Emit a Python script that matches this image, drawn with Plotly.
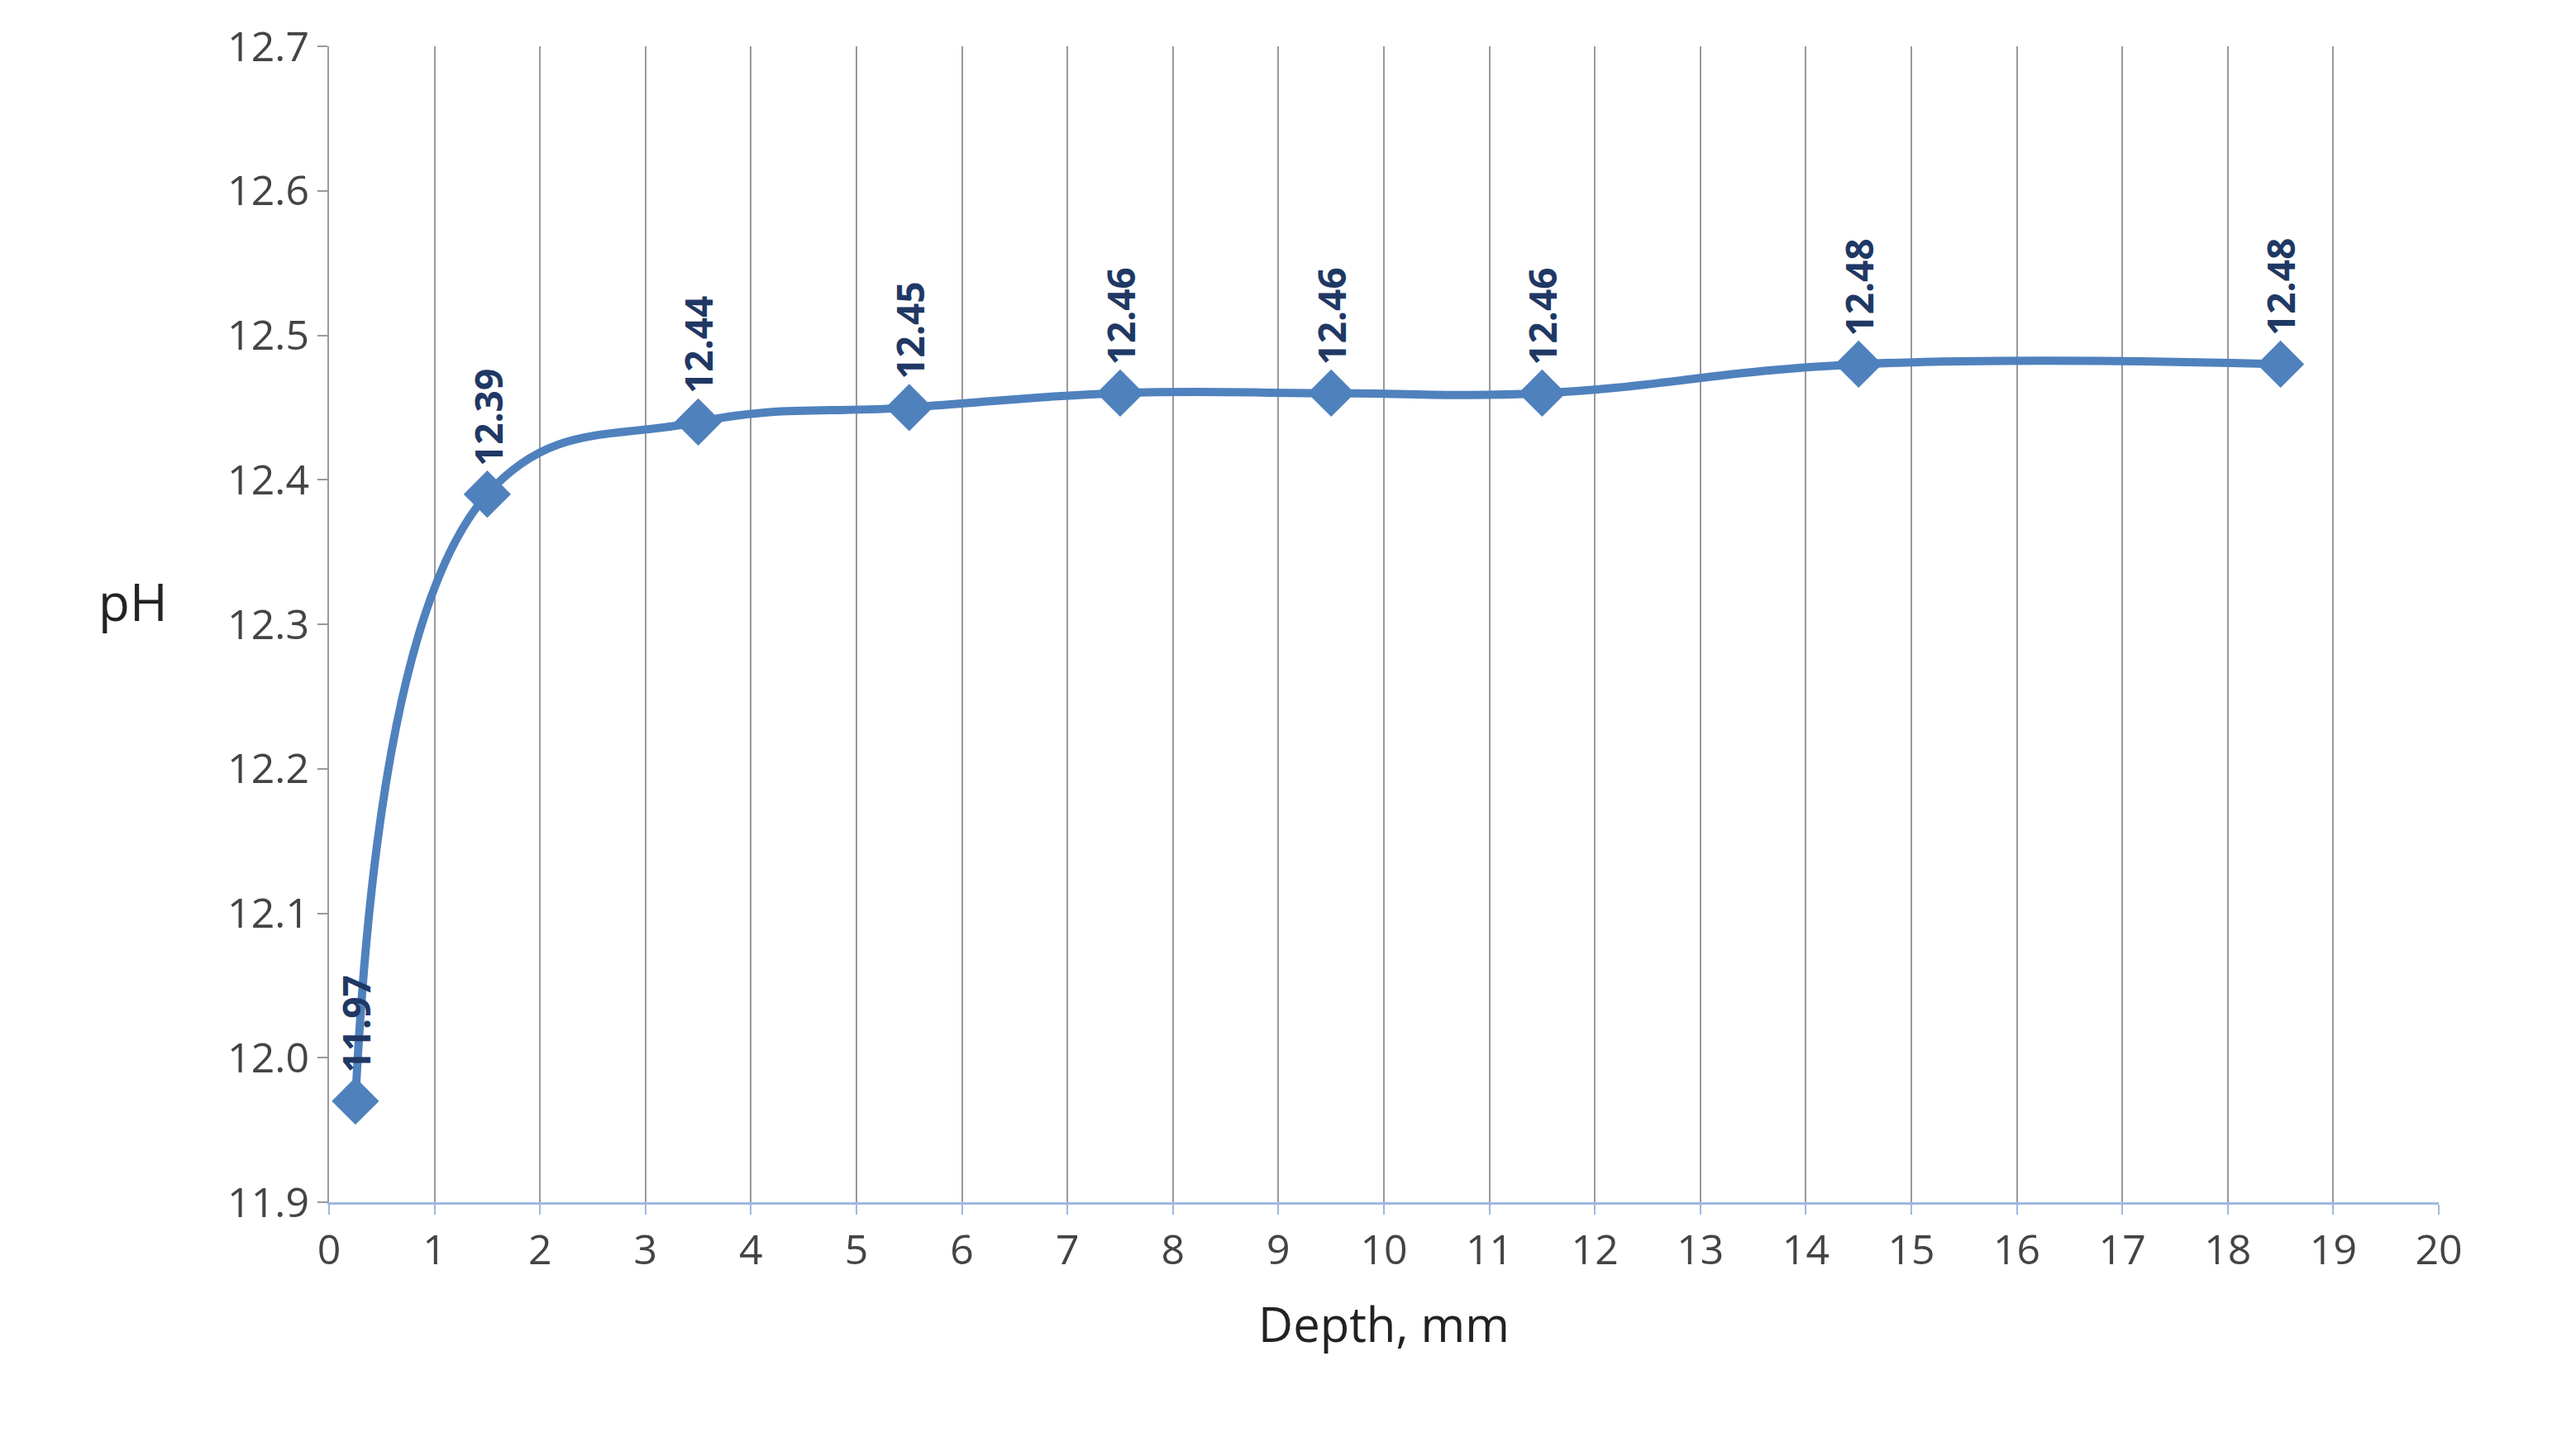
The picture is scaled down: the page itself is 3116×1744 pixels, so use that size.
import plotly.graph_objects as go

depth = [0.25, 1.5, 3.5, 5.5, 7.5, 9.5, 11.5, 14.5, 18.5]
ph = [11.97, 12.39, 12.44, 12.45, 12.46, 12.46, 12.46, 12.48, 12.48]
labels = ["11.97", "12.39", "12.44", "12.45", "12.46", "12.46", "12.46", "12.48", "12.48"]

fig = go.Figure(go.Scatter(
    x=depth, y=ph, mode="lines+markers",
    line=dict(color="#4F81BD", width=10, shape="spline", smoothing=1.2),
    marker=dict(symbol="diamond", size=44, color="#4F81BD"),
))
for xv, yv, t in zip(depth, ph, labels):
    fig.add_annotation(x=xv, y=yv, text=t, showarrow=False, textangle=-90,
                       yanchor="bottom", yshift=32,
                       font=dict(family="Open Sans", size=46, color="#1F3864", weight="bold"))
fig.add_annotation(xref="paper", yref="paper", x=-0.11, y=0.52, text="pH", showarrow=False,
                   font=dict(family="Open Sans", size=62, color="#222222"))

fig.update_layout(
    width=3116, height=1744, plot_bgcolor="white", paper_bgcolor="white",
    margin=dict(l=390, r=174, t=42, b=298), showlegend=False,
    font=dict(family="Open Sans", size=50, color="#444444"),
)
fig.update_xaxes(range=[0, 20], dtick=1, showgrid=True, gridcolor="#999999", gridwidth=2,
                 showline=True, linecolor="#9DB9E0", linewidth=3, ticks="outside",
                 tickcolor="#9DB9E0", ticklen=12, tickwidth=2, zeroline=False,
                 title=dict(text="Depth, mm", font=dict(size=58, color="#222222"), standoff=40))
fig.update_yaxes(range=[11.9, 12.7], dtick=0.1, tickformat=".1f", showgrid=False,
                 showline=True, linecolor="#999999", linewidth=2, ticks="outside",
                 tickcolor="#999999", ticklen=12, tickwidth=2, zeroline=False)
fig.write_html("out.html")
